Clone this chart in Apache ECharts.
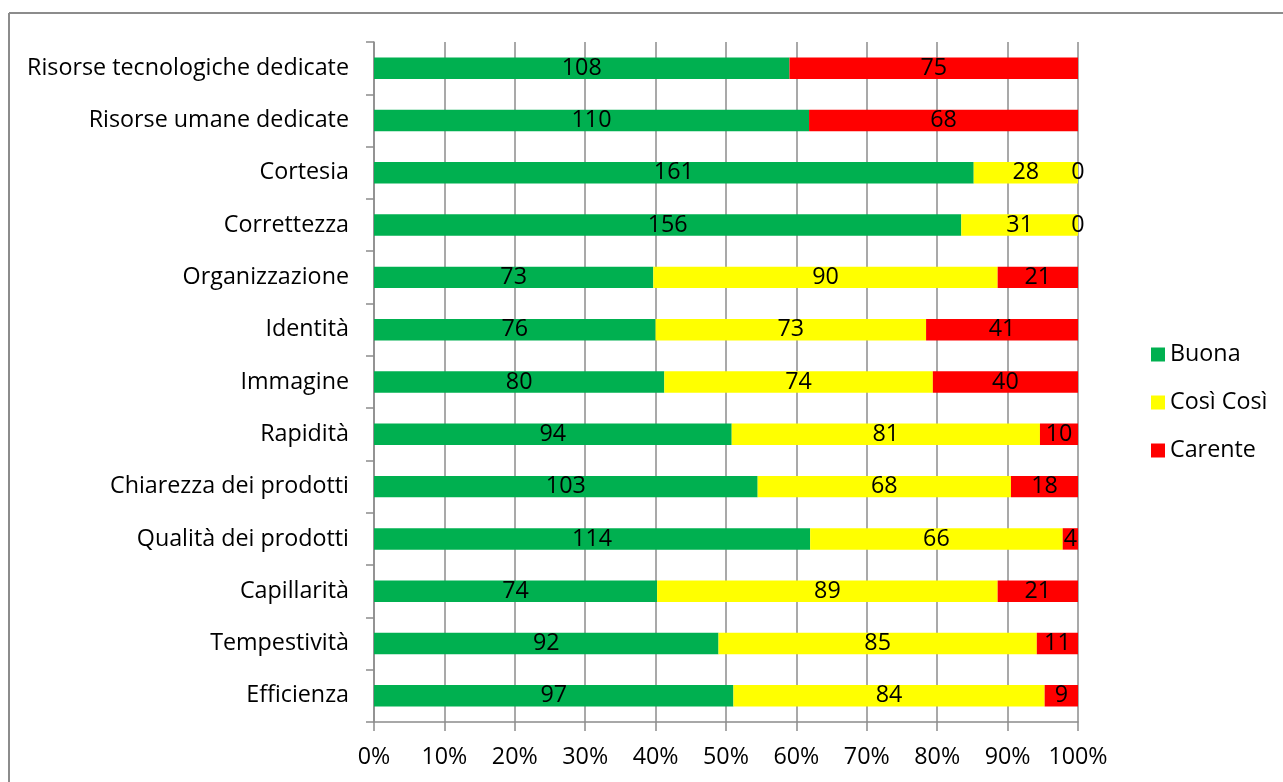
<!DOCTYPE html>
<html>
<head>
<meta charset="utf-8">
<script src="https://cdn.jsdelivr.net/npm/echarts@6/dist/echarts.min.js"></script>
<style>
  html, body { margin: 0; padding: 0; background: #fff; }
  #chart { width: 1283px; height: 782px; }
</style>
</head>
<body>
<div id="chart"></div>
<script>
// Survey answers per aspect, listed top to bottom
const categories = [
  'Risorse tecnologiche dedicate',
  'Risorse umane dedicate',
  'Cortesia',
  'Correttezza',
  'Organizzazione',
  'Identità',
  'Immagine',
  'Rapidità',
  'Chiarezza dei prodotti',
  'Qualità dei prodotti',
  'Capillarità',
  'Tempestività',
  'Efficienza'
];
const buona    = [108, 110, 161, 156, 73, 76, 80, 94, 103, 114, 74, 92, 97];
const cosiCosi = [null, null, 28, 31, 90, 73, 74, 81, 68, 66, 89, 85, 84];
const carente  = [75, 68, 0, 0, 21, 41, 40, 10, 18, 4, 21, 11, 9];
const valueTicks = [0, 10, 20, 30, 40, 50, 60, 70, 80, 90, 100];

const FONT = '"Open Sans"';
const SIZE = 23.3;
const AXIS_GREY = '#8c8c8c';

// Each row is shown as shares of its own total (100% stacked)
const totals = categories.map((_, i) =>
  (buona[i] || 0) + (cosiCosi[i] || 0) + (carente[i] || 0));
const share = arr => arr.map((v, i) => v == null ? null : v / totals[i] * 100);

function makeSeries(name, raw, color) {
  return {
    name: name,
    type: 'bar',
    stack: 'total',
    barWidth: '41%',
    data: share(raw),
    itemStyle: { color: color },
    label: {
      show: true,
      position: 'inside',
      color: '#000',
      fontFamily: FONT,
      fontSize: SIZE,
      formatter: p => raw[p.dataIndex] == null ? '' : String(raw[p.dataIndex])
    },
    emphasis: { disabled: true }
  };
}

const chart = echarts.init(document.getElementById('chart'), null, { renderer: 'canvas' });
chart.setOption({
  animation: false,
  backgroundColor: '#fff',
  textStyle: { fontFamily: FONT },
  graphic: [
    { type: 'line', shape: { x1: 9, y1: 13, x2: 1283, y2: 13 }, style: { stroke: AXIS_GREY, lineWidth: 2 } },
    { type: 'line', shape: { x1: 9, y1: 13, x2: 9, y2: 782 }, style: { stroke: AXIS_GREY, lineWidth: 2 } }
  ],
  grid: { left: 374, right: 205, top: 42, bottom: 60, containLabel: false },
  legend: {
    orient: 'vertical',
    left: 1146,
    top: 338,
    itemWidth: 14,
    itemHeight: 14,
    itemGap: 25,
    icon: 'rect',
    textStyle: { fontFamily: FONT, fontSize: SIZE, color: '#000' },
    data: ['Buona', 'Così Così', 'Carente']
  },
  xAxis: {
    type: 'value',
    min: valueTicks[0],
    max: valueTicks[valueTicks.length - 1],
    interval: 10,
    axisLine: { show: true, lineStyle: { color: AXIS_GREY, width: 1.5 } },
    axisTick: { show: true, length: 9, lineStyle: { color: AXIS_GREY, width: 1.5 } },
    splitLine: { show: true, lineStyle: { color: AXIS_GREY, width: 1.5 } },
    axisLabel: {
      fontFamily: FONT, fontSize: SIZE, color: '#000', margin: 24,
      formatter: v => v + '%'
    }
  },
  yAxis: {
    type: 'category',
    inverse: true,
    data: categories,
    axisLine: { show: true, lineStyle: { color: AXIS_GREY, width: 1.5 } },
    axisTick: { show: true, length: 8, lineStyle: { color: AXIS_GREY, width: 1.5 } },
    axisLabel: { fontFamily: FONT, fontSize: SIZE, color: '#000', margin: 25 }
  },
  series: [
    makeSeries('Buona', buona, '#00b050'),
    makeSeries('Così Così', cosiCosi, '#ffff00'),
    makeSeries('Carente', carente, '#ff0000')
  ]
});
</script>
</body>
</html>
